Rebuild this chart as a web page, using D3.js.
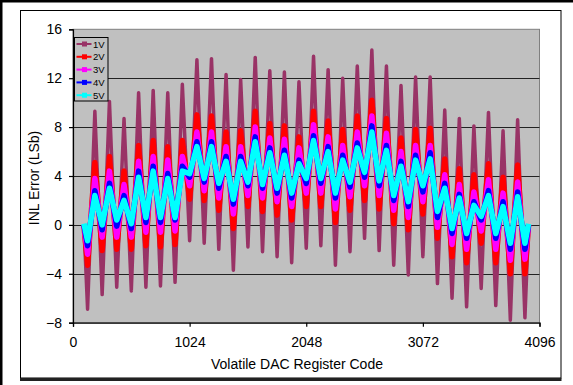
<!DOCTYPE html>
<html><head><meta charset="utf-8">
<script src="https://cdnjs.cloudflare.com/ajax/libs/d3/7.8.5/d3.min.js"></script>
<style>body{margin:0;background:#fff}svg{display:block}text{font-family:"Liberation Sans",Arial,sans-serif}</style>
</head><body><svg id="c" width="573" height="385"></svg>
<script>
const codes = [96,128,192,256,320,384,448,512,576,640,704,768,832,896,960,1024,1088,1152,1216,1280,1344,1408,1472,1536,1600,1664,1728,1792,1856,1920,1984,2048,2112,2176,2240,2304,2368,2432,2496,2560,2624,2688,2752,2816,2880,2944,3008,3072,3136,3200,3264,3328,3392,3456,3520,3584,3648,3712,3776,3840,3904,3968,4000];
const v1V = [0,-6.9,9.3,-5.7,10.1,-5.1,8.7,-5.4,10.8,-5.1,11.0,-5.0,10.8,-4.7,11.5,-1.3,13.5,-1.5,13.6,-2.0,12.3,-3.7,11.9,-1.8,13.7,-2.2,12.6,-2.6,12.5,-3.1,11.7,-1.9,13.8,-1.7,12.7,-3.3,12.0,-2.2,13.0,-1.1,14.3,-2.1,13.0,-3.3,11.4,-4.1,12.1,-2.6,12.1,-4.8,9.4,-6.0,8.7,-6.7,8.1,-5.2,9.2,-6.6,7.7,-7.8,8.6,-7.6,0];
const v2V = [0,-3.3,5.1,-2.1,5.6,-2.0,4.4,-2.0,6.5,-1.7,6.9,-1.8,6.4,-1.6,6.9,2.1,9.0,2.0,8.9,1.2,7.6,-0.3,7.7,1.5,9.3,1.1,8.3,0.8,8.1,0.4,7.2,1.5,9.3,1.5,8.5,0.2,7.8,1.2,8.9,2.0,10.2,1.3,8.7,0.1,7.1,-0.4,7.8,0.9,7.9,-1.1,5.4,-2.6,4.6,-3.1,4.1,-1.5,5.0,-3.1,3.9,-4.0,4.9,-4.0,0];
const v3V = [0,-2.4,3.8,-1.0,4.4,-1.0,3.3,-1.0,5.2,-0.6,5.6,-0.6,5.3,-0.5,5.6,3.2,7.6,2.8,7.6,2.2,6.4,0.9,6.4,2.4,8.0,2.2,7.1,1.9,7.0,1.5,6.3,2.6,8.2,2.6,7.2,1.3,6.5,2.3,7.6,3.2,8.9,2.4,7.5,1.2,6.0,0.6,6.5,1.9,6.5,-0.2,4.1,-1.6,3.3,-2.0,2.7,-0.5,3.7,-2.0,2.6,-2.9,3.5,-2.8,0];
const v4V = [0,-1.7,2.8,-0.4,3.4,-0.1,2.4,-0.3,4.4,0.2,4.8,0.2,4.2,0.4,4.8,3.9,6.8,3.5,6.8,3.0,5.6,1.7,5.6,3.2,7.2,3.0,6.3,2.6,6.1,2.2,5.3,3.4,7.3,3.4,6.4,2.2,5.7,3.1,6.7,3.9,8.1,3.2,6.5,2.0,5.2,1.5,5.7,2.7,5.9,0.6,3.4,-0.7,2.5,-1.1,1.9,0.4,2.8,-1.1,1.9,-2.0,2.7,-2.0,0];
const v5V = [0.1,-1.3,2.4,0.0,3.0,0.4,2.0,0.1,3.9,0.6,4.4,0.6,3.8,0.6,4.4,4.2,6.4,3.8,6.4,3.4,5.2,2.1,5.2,3.5,6.8,3.3,5.9,3.0,5.7,2.6,5.0,3.8,6.9,3.8,6.0,2.6,5.3,3.5,6.3,4.3,7.6,3.6,6.1,2.4,4.8,1.9,5.3,3.2,5.4,1.1,3.0,-0.3,2.2,-0.7,1.6,0.7,2.4,-0.7,1.5,-1.5,2.3,-1.5,0.1];
const seriesNames = ["1V","2V","3V","4V","5V"];
const seriesColors = ["#993366","#FF0000","#FF00FF","#0000FF","#00FFFF"];
const xTicks = [0,1024,2048,3072,4096];
const yTicks = [-8,-4,0,4,8,12,16];
const xTitle = "Volatile DAC Register Code";
const yTitle = "INL Error (LSb)";

const svg = d3.select("#c");
svg.append("rect").attr("width",573).attr("height",385).attr("fill","#fff");
// outer frame
svg.append("rect").attr("x",0).attr("y",0).attr("width",573).attr("height",2.5).attr("fill","#000");
svg.append("rect").attr("x",0).attr("y",0).attr("width",2.5).attr("height",385).attr("fill","#000");
svg.append("rect").attr("x",20.5).attr("y",10.5).attr("width",540.5).attr("height",367.5).attr("fill","none").attr("stroke","#000").attr("stroke-width",1);
svg.append("rect").attr("x",20).attr("y",378).attr("width",541.5).attr("height",3).attr("fill","#222");

const L=73, R=539.5, T=29.3, B=322.7;
const x = d3.scaleLinear().domain([0,4096]).range([L,R]);
const y = d3.scaleLinear().domain([-8,16]).range([B,T]);

svg.append("rect").attr("x",L).attr("y",T).attr("width",R-L).attr("height",B-T).attr("fill","#C0C0C0").attr("stroke","#808080").attr("stroke-width",1);

// gridlines
svg.append("g").selectAll("line").data(yTicks.filter(d=>d>-8 && d<16)).join("line")
  .attr("x1",L).attr("x2",R).attr("y1",d=>Math.round(y(d))+0.5).attr("y2",d=>Math.round(y(d))+0.5)
  .attr("stroke","#222").attr("stroke-width",1);

svg.append("clipPath").attr("id","clip").append("rect").attr("x",L).attr("y",T).attr("width",R-L).attr("height",B-T);

const allVals = [v1V,v2V,v3V,v4V,v5V];
const widths = [3.5,5.5,5.5,5.5,5.5];
const line = d3.line().x((d,i)=>x(codes[i])).y(d=>y(d));
const g = svg.append("g").attr("clip-path","url(#clip)");
allVals.forEach((vals,k)=>{
  g.append("path").datum(vals).attr("d",line).attr("fill","none")
   .attr("stroke",seriesColors[k]).attr("stroke-width",widths[k])
   .attr("stroke-linejoin","round").attr("stroke-linecap","butt");
});

// axes
const ax = svg.append("g").attr("transform",`translate(0,${B})`)
  .call(d3.axisBottom(x).tickValues(xTicks).tickSize(4).tickPadding(10).tickFormat(d3.format("d")));
const ay = svg.append("g").attr("transform",`translate(${L},0)`)
  .call(d3.axisLeft(y).tickValues(yTicks).tickSize(4).tickPadding(7));
[ax,ay].forEach(a=>{
  a.select(".domain").attr("stroke","#000").attr("stroke-width",1.2);
  a.selectAll(".tick line").attr("stroke","#000").attr("stroke-width",1.2);
  a.selectAll("text").attr("font-family","'Liberation Sans',Arial,sans-serif").attr("font-size",14).attr("fill","#000");
});

svg.append("text").attr("x",297).attr("y",369).attr("text-anchor","middle").attr("font-size",14).text(xTitle);
svg.append("text").attr("transform","translate(39,178) rotate(-90)").attr("text-anchor","middle").attr("font-size",14).text(yTitle);

// legend
const lg = svg.append("g");
lg.append("rect").attr("x",74.5).attr("y",37.5).attr("width",33.5).attr("height",63.5).attr("fill","#C0C0C0").attr("stroke","#000").attr("stroke-width",1);
seriesNames.forEach((n,k)=>{
  const yy = 44 + k*12.8;
  lg.append("line").attr("x1",76.5).attr("x2",91.5).attr("y1",yy).attr("y2",yy).attr("stroke",seriesColors[k]).attr("stroke-width",2);
  lg.append("rect").attr("x",82).attr("y",yy-2.5).attr("width",5).attr("height",5).attr("fill",seriesColors[k]);
  lg.append("text").attr("x",93).attr("y",yy+3.5).attr("font-size",9.5).text(n);
});
</script></body></html>
